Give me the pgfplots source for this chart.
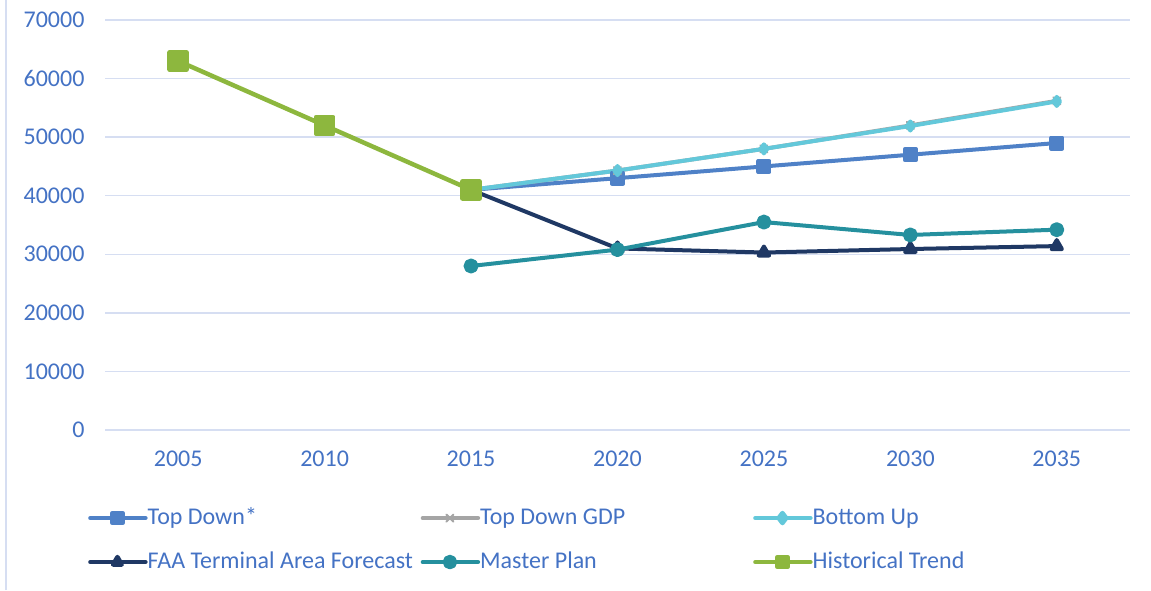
\documentclass[border=0pt]{standalone}
\usepackage{pgfplots}
\pgfplotsset{compat=1.18}
\usepackage{fontspec}
\setmainfont{Carlito}
\definecolor{cTop}{RGB}{79,129,199}
\definecolor{cGdp}{RGB}{165,165,165}
\definecolor{cBot}{RGB}{99,200,218}
\definecolor{cFaa}{RGB}{31,56,100}
\definecolor{cMas}{RGB}{37,144,158}
\definecolor{cHis}{RGB}{141,183,62}
\definecolor{cTxt}{RGB}{68,114,196}
\definecolor{cGrid}{RGB}{214,222,242}
\newcommand{\legtxt}[1]{\makebox[273pt][l]{\hspace*{0pt}#1}}
\begin{document}
\begin{tikzpicture}[x=1pt,y=1pt]
\path[use as bounding box] (0,0) rectangle (1151,590);
\draw[cGrid, line width=1.5pt] (6,0) -- (6,590);
\begin{axis}[
  at={(105pt,160pt)}, anchor=south west,
  scale only axis, width=1025pt, height=410pt,
  xmin=-0.5, xmax=6.5, ymin=0, ymax=70000,
  xtick={0,1,2,3,4,5,6},
  xticklabels={2005,2010,2015,2020,2025,2030,2035},
  ytick={0,10000,...,70000},
  scaled y ticks=false,
  /pgf/number format/assume math mode=true,
  /pgf/number format/1000 sep={},
  ymajorgrids, grid style={cGrid, line width=1.3pt},
  axis line style={draw=none},
  axis x line*=bottom, axis y line*=left,
  major tick length=0pt,
  tick label style={font=\fontsize{24}{28}\selectfont, text=cTxt},
  xticklabel style={yshift=-17pt},
  yticklabel style={xshift=-17pt},
  clip=false,
  legend columns=3,
  legend style={at={(axis description cs:-0.0166,-0.185)}, anchor=north west,
    draw=none, fill=none, inner sep=0pt, column sep=0pt, row sep=20pt,
    font=\fontsize{24}{28}\selectfont, text=cTxt,
    nodes={inner sep=0pt, text height=18pt, text depth=6pt, anchor=west}},
  legend cell align=left,
  legend image code/.code={\draw[mark repeat=2,mark phase=2, line width=4.5pt, mark size=5pt] plot coordinates {(0pt,0pt) (27pt,0pt) (55pt,0pt)};},
  every axis plot/.append style={line width=4pt, line join=round, line cap=round},
]
\addplot[cTop, mark=square*, mark size=5.5pt, mark options={solid}] coordinates {(2,41000) (3,43000) (4,45000) (5,47000) (6,49000)};
\addlegendentry{\legtxt{Top Down*}}
\addplot[cGdp, mark=x, mark size=5pt, mark options={line width=2pt}] coordinates {(2,41000) (3,44300) (4,48000) (5,52000) (6,56200)};
\addlegendentry{\legtxt{Top Down GDP}}
\addplot[cBot, mark=diamond*, mark size=4.5pt] coordinates {(2,41000) (3,44300) (4,48000) (5,51900) (6,56100)};
\addlegendentry{\legtxt{Bottom Up}}
\addplot[cFaa, mark=triangle*, mark size=6pt] coordinates {(2,41000) (3,31000) (4,30300) (5,30900) (6,31400)};
\addlegendentry{\legtxt{FAA Terminal Area Forecast}}
\addplot[cMas, mark=*, mark size=5.5pt] coordinates {(2,28000) (3,30800) (4,35500) (5,33300) (6,34200)};
\addlegendentry{\legtxt{Master Plan}}
\addplot[cHis, mark=square*, mark size=8.5pt, line width=4.5pt] coordinates {(0,63000) (1,52000) (2,41000)};
\addlegendentry{\legtxt{Historical Trend}}
\end{axis}
\end{tikzpicture}
\end{document}
